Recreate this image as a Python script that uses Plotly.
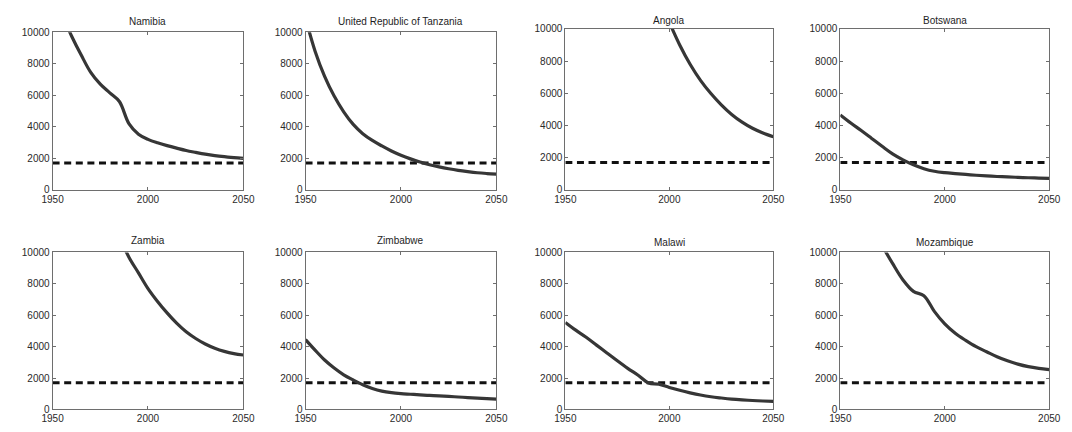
import plotly.graph_objects as go

W, H = 1072, 432

years = [1950, 1955, 1960, 1965, 1970, 1975, 1980, 1985, 1990, 1995, 2000,
         2005, 2010, 2015, 2020, 2025, 2030, 2035, 2040, 2045, 2050]

countries = ["Namibia", "United Republic of Tanzania", "Angola", "Botswana",
             "Zambia", "Zimbabwe", "Malawi", "Mozambique"]

namibia = [12300, 11100, 9750, 8550, 7450, 6700, 6150, 5600, 4200, 3530, 3200,
           2980, 2800, 2640, 2490, 2370, 2260, 2170, 2100, 2040, 1990]
tanzania = [10900, 8800, 7200, 5950, 4950, 4150, 3560, 3130, 2780, 2460, 2190,
            1960, 1760, 1590, 1450, 1330, 1230, 1150, 1080, 1030, 990]
angola = [30000, 27500, 25000, 22500, 20500, 18500, 16500, 14800, 13200, 11800, 10400,
          9000, 7800, 6800, 5980, 5280, 4680, 4200, 3820, 3530, 3300]
botswana = [4650, 4150, 3680, 3190, 2700, 2230, 1860, 1550, 1310, 1150, 1060,
            1000, 950, 900, 860, 825, 795, 770, 745, 725, 705]
zambia = [23000, 21000, 19000, 17200, 15500, 13900, 12400, 11000, 9700, 8700, 7700,
          6880, 6150, 5500, 4950, 4520, 4170, 3900, 3700, 3560, 3470]
zimbabwe = [4450, 3780, 3150, 2640, 2210, 1880, 1580, 1340, 1170, 1070, 1010,
            970, 930, 895, 860, 830, 795, 760, 725, 690, 660]
malawi = [5540, 5050, 4600, 4100, 3600, 3100, 2620, 2180, 1690, 1610, 1400,
          1220, 1060, 920, 810, 730, 660, 610, 570, 540, 510]
mozambique = [15800, 14400, 13000, 11700, 10450, 9300, 8250, 7520, 7250, 6250, 5450,
              4850, 4400, 4000, 3680, 3360, 3100, 2890, 2730, 2620, 2540]

series = [namibia, tanzania, angola, botswana, zambia, zimbabwe, malawi, mozambique]

threshold = 1700
x_ticks = [1950, 2000, 2050]
y_ticks = [0, 2000, 4000, 6000, 8000, 10000]

# panel boxes in pixels: (left, right), (top, bottom)
col_x = [(42.5, 237.5), (301, 496), (566.5, 779), (847.5, 1061)]
row_y = [[(27, 189), (27, 189), (23.5, 189), (23.5, 189)],
         [(253.5, 415), (253.5, 415), (253.5, 415), (253.5, 415)]]
title_y = [[16, 16, 15, 15], [241.5, 241.5, 243.5, 243.5]]

fig = go.Figure()
font_family = "Liberation Sans, Arial, sans-serif"
axis_col = "#6e6e6e"

for i, (name, vals) in enumerate(zip(countries, series)):
    r, c = divmod(i, 4)
    xl, xr = col_x[c]
    yt, yb = row_y[r][c]
    k = i + 1
    xa = "x" if k == 1 else f"x{k}"
    ya = "y" if k == 1 else f"y{k}"
    fig.add_trace(go.Scatter(x=years, y=[threshold] * len(years), mode="lines",
                             line=dict(color="#111111", width=3, dash="7px,4.6px"),
                             xaxis=xa, yaxis=ya, showlegend=False, hoverinfo="skip"))
    fig.add_trace(go.Scatter(x=years, y=vals, mode="lines",
                             line=dict(color="#363636", width=3.2, shape="spline", smoothing=1.0),
                             xaxis=xa, yaxis=ya, showlegend=False, name=name))
    axis_common = dict(showline=True, linecolor=axis_col, linewidth=1, mirror="ticks",
                       ticks="inside", ticklen=3, tickcolor=axis_col, showgrid=False,
                       zeroline=False, tickfont=dict(family=font_family, size=10, color="#2a2a2a"))
    fig.layout[f"xaxis{'' if k == 1 else k}"] = dict(
        domain=[xl / W, xr / W], range=[1950, 2050], tickvals=x_ticks,
        ticktext=[str(v) for v in x_ticks], anchor=ya, **axis_common)
    fig.layout[f"yaxis{'' if k == 1 else k}"] = dict(
        domain=[1 - yb / H, 1 - yt / H], range=[0, 10000], tickvals=y_ticks,
        ticktext=[str(v) for v in y_ticks], anchor=xa, ticklabelstandoff=0, **axis_common)
    fig.add_annotation(text=name, x=(xl + xr) / 2 / W, y=1 - title_y[r][c] / H,
                       xref="paper", yref="paper", showarrow=False,
                       xanchor="center", yanchor="middle",
                       font=dict(family=font_family, size=10, color="#1e1e1e"))

fig.update_layout(width=W, height=H, margin=dict(l=0, r=0, t=0, b=0),
                  paper_bgcolor="white", plot_bgcolor="white")

fig.write_html("out.html")
